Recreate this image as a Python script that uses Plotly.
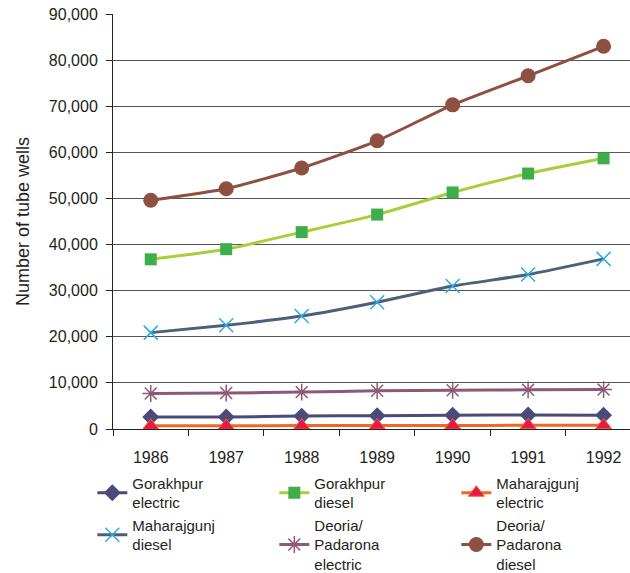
import plotly.graph_objects as go

# Tube wells by district and pump type, 1986-1992
years = ["1986", "1987", "1988", "1989", "1990", "1991", "1992"]

gorakhpur_electric = [2600, 2600, 2800, 2900, 3000, 3050, 3000]
gorakhpur_diesel = [36800, 39000, 42700, 46500, 51300, 55400, 58700]
maharajgunj_electric = [700, 700, 750, 750, 750, 800, 800]
maharajgunj_diesel = [20900, 22500, 24500, 27500, 31000, 33500, 36900]
deoria_electric = [7700, 7800, 8000, 8300, 8400, 8500, 8550]
deoria_diesel = [49600, 52100, 56600, 62500, 70300, 76600, 83000]

y_ticks = [0, 10000, 20000, 30000, 40000, 50000, 60000, 70000, 80000, 90000]
y_tick_labels = ["0", "10,000", "20,000", "30,000", "40,000", "50,000",
                 "60,000", "70,000", "80,000", "90,000"]

series = [
    ("Gorakhpur<br>electric", gorakhpur_electric, "#4b4a78",
     dict(symbol="diamond", size=13, color="#4b4a78")),
    ("Gorakhpur<br>diesel", gorakhpur_diesel, "#a6cf3a",
     dict(symbol="square", size=12, color="#3fae4a")),
    ("Maharajgunj<br>electric", maharajgunj_electric, "#f26522",
     dict(symbol="triangle-up", size=14, color="#e5194b",
          line=dict(color="#f26522", width=1))),
    ("Maharajgunj<br>diesel", maharajgunj_diesel, "#4c5f7b",
     dict(symbol="x-thin", size=14, color="#2aace2",
          line=dict(color="#2aace2", width=1.5))),
    ("Deoria/<br>Padarona<br>electric", deoria_electric, "#8c5a74",
     dict(symbol="asterisk", size=14, color="#8c5a74",
          line=dict(color="#8c5a74", width=1.5))),
    ("Deoria/<br>Padarona<br>diesel", deoria_diesel, "#8e5040",
     dict(symbol="circle", size=15, color="#8e5040")),
]

fig = go.Figure()
for name, values, line_color, marker in series:
    fig.add_trace(go.Scatter(
        x=years, y=values, name=name, mode="lines+markers",
        line=dict(color=line_color, width=3, shape="spline", smoothing=0.5),
        marker=marker,
    ))

font_family = "Liberation Sans, Arial, sans-serif"
text_color = "#231f20"

fig.update_layout(
    width=630, height=573,
    margin=dict(l=113, r=0, t=14, b=144, autoexpand=False),
    paper_bgcolor="white", plot_bgcolor="white",
    font=dict(family=font_family, size=16, color=text_color),
    showlegend=True,
    legend=dict(
        orientation="h", x=-0.04, xanchor="left", y=-0.091, yanchor="top",
        entrywidth=137, entrywidthmode="pixels",
        font=dict(family=font_family, size=15, color=text_color),
        itemwidth=30, traceorder="normal", tracegroupgap=0,
    ),
)

fig.update_xaxes(
    type="category", range=[-0.5, 6.35],
    showgrid=False, showline=True, linecolor="#222", linewidth=1,
    ticks="outside", tickson="boundaries", ticklen=6, tickcolor="#222",
    tickfont=dict(size=16, color=text_color), ticklabelstandoff=14,
    zeroline=False,
)
fig.update_yaxes(
    range=[0, 90000], tickvals=y_ticks, ticktext=y_tick_labels,
    showgrid=True, gridcolor="#555", gridwidth=1,
    showline=True, linecolor="#222", linewidth=1,
    ticks="outside", ticklen=6, tickcolor="#222",
    tickfont=dict(size=16, color=text_color), ticklabelstandoff=5,
    zeroline=False,
    title=dict(text="Number of tube wells", standoff=14,
               font=dict(size=18, color=text_color)),
)

fig.write_html("out.html")
